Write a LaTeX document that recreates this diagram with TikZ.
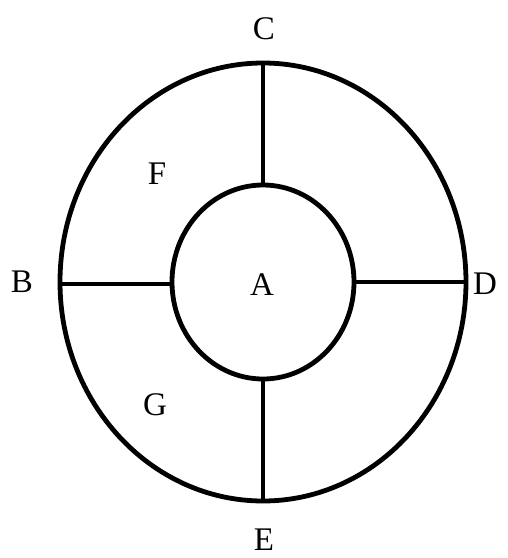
\documentclass[tikz,border=0pt]{standalone}
\usepackage{fontspec}
\setmainfont{Liberation Serif}
\usetikzlibrary{positioning}

\tikzset{
  ring/.style={black, line width=2.4pt},
  spoke/.style={black, line width=2.1pt},
  lbl/.style={font=\fontsize{16.5}{18}\selectfont, inner sep=0pt}
}

\begin{document}
\begin{tikzpicture}[x=0.5pt, y=-0.5pt]
  \useasboundingbox (0,0) rectangle (508,558);
  % rings
  \draw[ring] (263,282) ellipse[x radius=203, y radius=219];
  \draw[ring] (263,282) ellipse[x radius=91, y radius=97];
  % named points on the rings
  \coordinate (outC) at (263,63);
  \coordinate (inC) at (263,185);
  \coordinate (outE) at (263,501);
  \coordinate (inE) at (263,379);
  \coordinate (outB) at (60,284);
  \coordinate (inB) at (172,284);
  \coordinate (outD) at (466,282);
  \coordinate (inD) at (354,282);
  % spokes
  \draw[spoke] (outC) -- (inC);
  \draw[spoke] (inE) -- (outE);
  \draw[spoke] (outB) -- (inB);
  \draw[spoke] (inD) -- (outD);
  % labels
  \node[lbl] (A) at (262,285) {A};
  \node[lbl] (B) at (22,282) {B};
  \node[lbl] (C) at (264,29) {C};
  \node[lbl] (D) at (485,284) {D};
  \node[lbl] (E) at (264,540) {E};
  \node[lbl] (F) at (157,174) {F};
  \node[lbl] (G) at (155,405) {G};
\end{tikzpicture}
\end{document}
